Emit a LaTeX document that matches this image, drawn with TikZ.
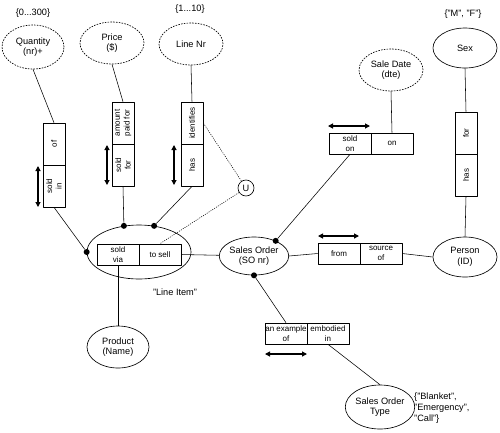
\documentclass[tikz,border=0pt]{standalone}
\usepackage{fontspec}
\setmainfont{Liberation Sans}
\usetikzlibrary{arrows.meta,shapes.geometric}

\begin{document}
\begin{tikzpicture}[x=1pt,y=-1pt,line join=round,
  ent/.style={ellipse,draw,line width=0.65pt,inner sep=0pt,align=center,font=\fontsize{9.2}{10.6}\selectfont},
  attr/.style={ent,dash pattern=on 1.6pt off 1.2pt},
  vrole/.style={draw,line width=0.65pt,rotate=90,minimum width=42pt,minimum height=22pt,inner sep=0pt,align=center,font=\fontsize{8}{9.6}\selectfont},
  hrole/.style={draw,line width=0.65pt,minimum width=42pt,minimum height=21pt,inner sep=0pt,align=center,font=\fontsize{8}{9.6}\selectfont},
  lbl/.style={inner sep=0pt,font=\fontsize{9.2}{11}\selectfont},
  link/.style={line width=0.55pt},
  uline/.style={line width=0.55pt,dash pattern=on 1pt off 1.2pt},
  dir/.style={{Triangle[length=5pt,width=5pt]}-{Triangle[length=5pt,width=5pt]},line width=1.1pt},
  dot/.style={circle,fill,inner sep=0pt,minimum size=6pt}]
  \useasboundingbox (0,0) rectangle (500,432);
  \node[attr,minimum width=62pt,minimum height=44pt] (QTY) at (33,47) {Quantity\\(nr)+};
  \node[attr,minimum width=64pt,minimum height=42pt] (PRICE) at (112,43) {Price\\(\$)};
  \node[attr,minimum width=64pt,minimum height=42pt] (LNR) at (191,44) {Line Nr};
  \node[attr,minimum width=64pt,minimum height=42pt] (SDATE) at (391,70) {Sale Date\\(dte)};
  \node[ent,minimum width=64pt,minimum height=40pt] (SEX) at (465,48) {Sex};
  \node[ent,minimum width=104pt,minimum height=54pt] (LI) at (139,252) {};
  \node[ent,minimum width=64pt,minimum height=38pt] (SO) at (254,256) {Sales Order\\(SO nr)};
  \node[ent,minimum width=64pt,minimum height=40pt] (PERSON) at (465,257) {Person\\(ID)};
  \node[ent,minimum width=62pt,minimum height=42pt] (PROD) at (118,347) {Product\\(Name)};
  \node[ent,minimum width=64pt,minimum height=44pt] (SOT) at (380,407) {Sales Order\\Type};
  \node[lbl] (RQTY) at (33,13) {\{0...300\}};
  \node[lbl] (RLNR) at (190,9) {\{1...10\}};
  \node[lbl] (RSEX) at (463,14) {\{"M", "F"\}};
  \node[lbl] (NLI) at (175,292) {"Line Item"};
  \node[lbl,align=left,anchor=west] (RSOT) at (414,408) {\{"Blanket",\\"Emergency",\\"Call"\}};
  \node[vrole] (QOF) at (54,144) {of};
  \node[vrole] (QIN) at (54,186) {sold\\in};
  \node[vrole] (PAMT) at (123,123) {amount\\paid for};
  \node[vrole] (PFOR) at (123,165) {sold\\for};
  \node[vrole] (LID) at (192,123) {identifies};
  \node[vrole] (LHAS) at (192,165) {has};
  \node[vrole] (SFOR) at (466,133) {for};
  \node[vrole] (SHAS) at (466,175) {has};
  \node[hrole] (SV) at (118,254.5) {sold\\via};
  \node[hrole] (TS) at (160,254.5) {to sell};
  \node[hrole] (SON) at (350,143.5) {sold\\on};
  \node[hrole] (ON) at (392,143.5) {on};
  \node[hrole] (FROM) at (339,253.5) {from};
  \node[hrole] (SRC) at (381,253.5) {source\\of};
  \node[hrole] (EXOF) at (286,333.5) {an example\\of};
  \node[hrole] (EMB) at (328,333.5) {embodied\\in};
  \node[circle,draw,line width=0.65pt,minimum size=16pt,inner sep=0pt,font=\fontsize{9.2}{10.6}\selectfont] (U) at (246,188) {U};
  \node[dot] (D1) at (LI.180) {};
  \node[dot] (D2) at (LI.120) {};
  \node[dot] (D3) at (LI.60) {};
  \node[dot] (D4) at (SO.35) {};
  \node[dot] (D5) at (SO.270) {};
  \draw[link] (QTY.south) -- (QOF.east);
  \draw[link] (QIN.west) -- (D1);
  \draw[link] (PRICE.south) -- (PAMT.east);
  \draw[link] (PFOR.west) -- (D2);
  \draw[link] (LNR.south) -- (LID.east);
  \draw[link] (LHAS.west) -- (D3);
  \draw[uline] (LID.south) -- (U);
  \draw[uline] (U) -- (TS.north);
  \draw[link] (SV.south) -- (PROD.north);
  \draw[link] (TS.east) -- (SO);
  \draw[link] (D4) -- (SON.south);
  \draw[link] (SDATE.south) -- (ON.north);
  \draw[link] (SO.east) -- (FROM.west);
  \draw[link] (SRC.east) -- (PERSON.west);
  \draw[link] (SEX.south) -- (SFOR.east);
  \draw[link] (SHAS.west) -- (PERSON.north);
  \draw[link] (D5) -- (EXOF.north);
  \draw[link] (EMB.south) -- (SOT.north);
  \draw[dir] (38,166) -- (38,207);
  \draw[dir] (107,145) -- (107,185);
  \draw[dir] (174,145) -- (174,185);
  \draw[dir] (328,126) -- (370,126);
  \draw[dir] (318,236) -- (359,236);
  \draw[dir] (265,354) -- (307,354);
\end{tikzpicture}
\end{document}
